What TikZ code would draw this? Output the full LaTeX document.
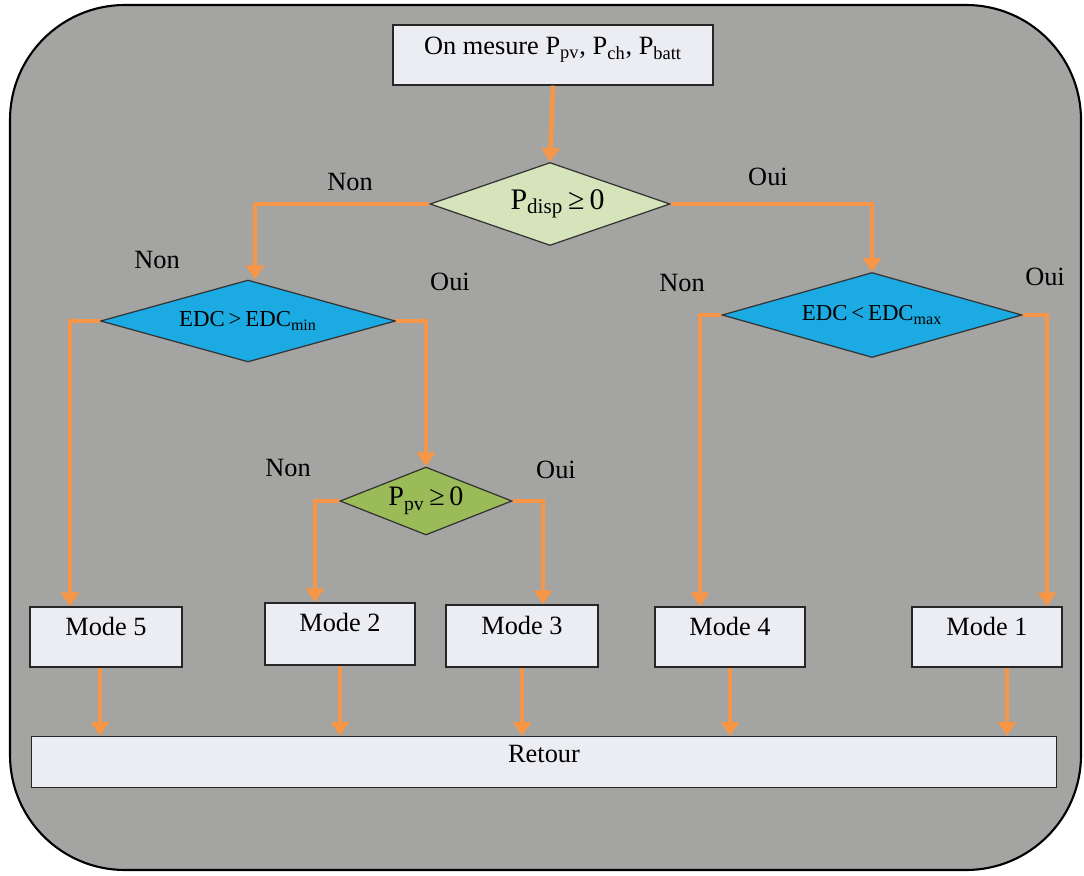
\documentclass[tikz,border=0pt]{standalone}
\usepackage{fontspec}
\setmainfont{Liberation Serif}
\usetikzlibrary{shapes.geometric, arrows.meta}
\definecolor{fondgris}{RGB}{164,164,162}
\definecolor{boitegris}{RGB}{236,237,242}
\definecolor{vertclair}{RGB}{214,228,188}
\definecolor{bleuedc}{RGB}{28,170,226}
\definecolor{vertolive}{RGB}{155,187,89}
\definecolor{flèche}{RGB}{247,150,70}
\tikzset{
  flow/.style={draw=flèche, line width=2.6pt, -{Triangle[width=0.36cm, length=0.28cm]}},
  boite/.style={draw=black!85, line width=0.8pt, fill=boitegris, font=\fontsize{15}{18}\selectfont,
    inner ysep=4pt, text height=12pt, text depth=14pt},
  losange/.style={diamond, draw=black!80, line width=0.7pt, inner sep=0pt, aspect=3},
  lab/.style={font=\fontsize{15}{18}\selectfont}
}
\begin{document}
\begin{tikzpicture}[x=0.02cm, y=-0.02cm]
\useasboundingbox (0,0) rectangle (1084,875);
% ---------- background panel ----------
\draw[fill=fondgris, line width=1.2pt, rounded corners=2.3cm] (10,5) rectangle (1081,870);
% ---------- boxes ----------
\node[boite, minimum width=6.4cm, minimum height=1.2cm, text depth=12pt] (mesure) at (553,55)
  {On mesure P\textsubscript{pv}, P\textsubscript{ch}, P\textsubscript{batt}};
\node[boite, minimum width=3.04cm, minimum height=1.2cm] (mode5) at (106,637) {Mode 5};
\node[boite, minimum width=3cm, minimum height=1.24cm, text depth=15pt] (mode2) at (340,634) {Mode 2};
\node[boite, minimum width=3.04cm, minimum height=1.24cm] (mode3) at (522,636) {Mode 3};
\node[boite, minimum width=3cm, minimum height=1.2cm] (mode4) at (730,637) {Mode 4};
\node[boite, minimum width=3cm, minimum height=1.2cm] (mode1) at (987,637) {Mode 1};
\node[boite, minimum width=20.5cm, minimum height=1.02cm, inner ysep=3pt, text height=11.5pt, text depth=11.5pt] (retour) at (544,762) {Retour};
% ---------- decisions ----------
\node[losange, fill=vertclair, minimum width=4.8cm, minimum height=1.66cm, font=\fontsize{17}{20}\selectfont] (dispo) at (550,204)
  {\hspace*{0.3cm}P\textsubscript{\fontsize{12}{14}\selectfont disp}\,≥\,0};
\node[losange, fill=bleuedc, minimum width=5.9cm, minimum height=1.64cm, font=\fontsize{13}{16}\selectfont] (edcmin) at (248,321)
  {EDC\,>\,EDC\textsubscript{min}};
\node[losange, fill=bleuedc, minimum width=6cm, minimum height=1.7cm, font=\fontsize{13}{16}\selectfont] (edcmax) at (872,315)
  {EDC\,<\,EDC\textsubscript{max}};
\node[losange, fill=vertolive, minimum width=3.44cm, minimum height=1.36cm, font=\fontsize{16}{19}\selectfont] (ppv) at (426,501)
  {P\textsubscript{pv}\,≥\,0};
% ---------- connectors ----------
\draw[flow] (mesure.south) -- (dispo.north);
\draw[flow] (dispo.west) -| ([xshift=0.14cm]edcmin.north);
\draw[flow] (dispo.east) -| (edcmax.north);
\draw[flow] (edcmin.west) -| ([xshift=-0.72cm]mode5.north);
\draw[flow] (edcmin.east) -| (ppv.north);
\draw[flow] (ppv.west) -| ([xshift=-0.5cm]mode2.north);
\draw[flow] (ppv.east) -| ([xshift=0.42cm]mode3.north);
\draw[flow] (edcmax.west) -| ([xshift=-0.6cm]mode4.north);
\draw[flow] (edcmax.east) -| ([xshift=1.2cm]mode1.north);
% modes back to the return box
\foreach \m/\dx in {mode5/-0.12, mode2/0, mode3/0, mode4/0, mode1/0.4}
  \draw[flow] ([xshift=\dx cm]\m.south) -- ([xshift=\dx cm]\m.south |- retour.north);
% ---------- Oui / Non ----------
\foreach \n/\x/\y/\t in {nonA/350/182/Non, ouiA/768/177/Oui, nonB/157/260/Non, ouiB/450/282/Oui,
    nonC/288/468/Non, ouiC/556/470/Oui, nonD/682/283/Non, ouiD/1045/277/Oui}
  \node[lab] (\n) at (\x,\y) {\t};
\end{tikzpicture}
\end{document}
